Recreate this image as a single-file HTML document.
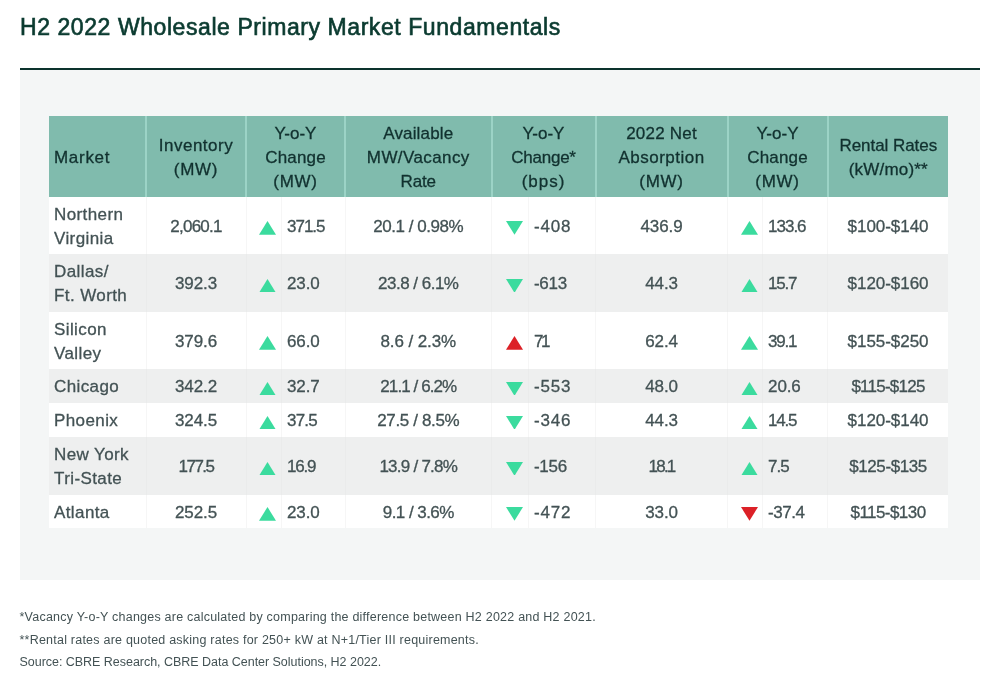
<!DOCTYPE html>
<html lang="en">
<head>
<meta charset="utf-8">
<title>H2 2022 Wholesale Primary Market Fundamentals</title>
<style>
html,body{margin:0;padding:0;background:#fff;}
body{width:1007px;height:683px;position:relative;overflow:hidden;font-family:"Liberation Sans",sans-serif;color:#435254;}
h1{position:absolute;left:20px;top:12px;margin:0;font-size:23px;line-height:30px;font-weight:normal;color:#0b3b30;white-space:nowrap;letter-spacing:0.57px;-webkit-text-stroke:0.65px #0b3b30;}
.panel{position:absolute;left:20px;top:67.7px;width:959.8px;height:512.4px;background:#f4f6f6;border-top:2.5px solid #0c332d;box-sizing:border-box;}
table{position:absolute;left:49px;top:116px;width:899px;border-collapse:collapse;table-layout:fixed;font-size:17px;line-height:24px;}
th,td{padding:2px 0 0 0;margin:0;font-weight:normal;text-align:center;vertical-align:middle;box-sizing:border-box;}
thead th{height:81px;background:#80bbad;color:#11312f;border-left:2px solid #9cd3c6;}
thead th:first-child{border-left:none;text-align:left;padding-left:5px;}
tbody td{background:#fff;border-left:1px solid #f6f6f6;}
tbody td:first-child{border-left:none;text-align:left;padding-left:5px;}
tbody tr.alt td{background:#eeefef;border-left-color:#eaebeb;}
tr.h57 td{height:57px;}tr.h58 td{height:58px;}tr.h34 td{height:34px;}tr.h33 td{height:33px;}
td.n{text-align:left;padding-left:5px;}
table{letter-spacing:0.4px;-webkit-text-stroke:0.3px currentColor;}
td.num{letter-spacing:-0.6px;}
td.a{padding-top:0;}
td.a svg{display:block;margin:5.2px 0 0 12.75px;}
td.a5 svg{margin-left:14.45px;}
td.a7 svg{margin-left:13.35px;}
.notes{position:absolute;left:19.5px;top:606.3px;font-size:12.5px;line-height:22.5px;color:#435254;white-space:nowrap;}
.notes p{margin:0;}
</style>
</head>
<body>
<h1>H2 2022 Wholesale Primary Market Fundamentals</h1>
<div class="panel"></div>
<table>
<colgroup>
<col style="width:97px"><col style="width:100px"><col style="width:35.5px"><col style="width:63.5px"><col style="width:146.5px"><col style="width:37px"><col style="width:67px"><col style="width:132px"><col style="width:35px"><col style="width:65px"><col style="width:120.5px">
</colgroup>
<thead>
<tr>
<th><span style="letter-spacing:0.7px">Market</span></th>
<th><span style="letter-spacing:0.5px">Inventory</span><br><span style="letter-spacing:0.7px">(MW)</span></th>
<th colspan="2"><span style="letter-spacing:0px">Y-o-Y</span><br><span style="letter-spacing:0.15px">Change</span><br><span style="letter-spacing:0.7px">(MW)</span></th>
<th><span style="letter-spacing:0.15px">Available</span><br>MW/Vacancy<br><span style="letter-spacing:-0.15px">Rate</span></th>
<th colspan="2"><span style="letter-spacing:0px">Y-o-Y</span><br><span style="letter-spacing:-0.25px">Change*</span><br><span style="letter-spacing:1px">(bps)</span></th>
<th><span style="letter-spacing:0.2px">2022 Net</span><br><span style="letter-spacing:0.5px">Absorption</span><br><span style="letter-spacing:0.7px">(MW)</span></th>
<th colspan="2"><span style="letter-spacing:0px">Y-o-Y</span><br><span style="letter-spacing:0.15px">Change</span><br><span style="letter-spacing:0.7px">(MW)</span></th>
<th><span style="letter-spacing:-0.05px">Rental Rates</span><br><span style="letter-spacing:0.2px">(kW/mo)**</span></th>
</tr>
</thead>
<tbody>
<tr class="h57">
<td>Northern<br>Virginia</td><td class="num" style="letter-spacing:-0.74px">2,060.1</td>
<td class="a"><svg width="17" height="13.8" viewBox="0 0 17 14" preserveAspectRatio="none"><polygon points="8.5,0 17,14 0,14" fill="#3bdb9e"/></svg></td><td class="n num" style="letter-spacing:-1.00px">371.5</td>
<td class="num" style="letter-spacing:-0.47px">20.1 / 0.98%</td>
<td class="a a5"><svg width="17" height="13.8" viewBox="0 0 17 14" preserveAspectRatio="none"><polygon points="0,0 17,0 8.5,14" fill="#3bdb9e"/></svg></td><td class="n num" style="letter-spacing:0.80px">-408</td>
<td class="num" style="letter-spacing:-0.10px">436.9</td>
<td class="a a7"><svg width="17" height="13.8" viewBox="0 0 17 14" preserveAspectRatio="none"><polygon points="8.5,0 17,14 0,14" fill="#3bdb9e"/></svg></td><td class="n num" style="letter-spacing:-1.00px">133.6</td>
<td class="num" style="letter-spacing:-0.05px">$100-$140</td>
</tr>
<tr class="h58 alt">
<td>Dallas/<br>Ft. Worth</td><td class="num" style="letter-spacing:-0.10px">392.3</td>
<td class="a"><svg width="17" height="13.8" viewBox="0 0 17 14" preserveAspectRatio="none"><polygon points="8.5,0 17,14 0,14" fill="#3bdb9e"/></svg></td><td class="n num" style="letter-spacing:-0.10px">23.0</td>
<td class="num" style="letter-spacing:-0.51px">23.8 / 6.1%</td>
<td class="a a5"><svg width="17" height="13.8" viewBox="0 0 17 14" preserveAspectRatio="none"><polygon points="0,0 17,0 8.5,14" fill="#3bdb9e"/></svg></td><td class="n num" style="letter-spacing:-0.32px">-613</td>
<td class="num" style="letter-spacing:-0.10px">44.3</td>
<td class="a a7"><svg width="17" height="13.8" viewBox="0 0 17 14" preserveAspectRatio="none"><polygon points="8.5,0 17,14 0,14" fill="#3bdb9e"/></svg></td><td class="n num" style="letter-spacing:-1.23px">15.7</td>
<td class="num" style="letter-spacing:-0.05px">$120-$160</td>
</tr>
<tr class="h57">
<td>Silicon<br>Valley</td><td class="num" style="letter-spacing:-0.10px">379.6</td>
<td class="a"><svg width="17" height="13.8" viewBox="0 0 17 14" preserveAspectRatio="none"><polygon points="8.5,0 17,14 0,14" fill="#3bdb9e"/></svg></td><td class="n num" style="letter-spacing:-0.10px">66.0</td>
<td class="num" style="letter-spacing:-0.10px">8.6 / 2.3%</td>
<td class="a a5"><svg width="17" height="13.8" viewBox="0 0 17 14" preserveAspectRatio="none"><polygon points="8.5,0 17,14 0,14" fill="#dc2127"/></svg></td><td class="n num" style="letter-spacing:-2.35px">71</td>
<td class="num" style="letter-spacing:-0.10px">62.4</td>
<td class="a a7"><svg width="17" height="13.8" viewBox="0 0 17 14" preserveAspectRatio="none"><polygon points="8.5,0 17,14 0,14" fill="#3bdb9e"/></svg></td><td class="n num" style="letter-spacing:-1.23px">39.1</td>
<td class="num" style="letter-spacing:-0.05px">$155-$250</td>
</tr>
<tr class="h34 alt">
<td>Chicago</td><td class="num" style="letter-spacing:-0.10px">342.2</td>
<td class="a"><svg width="17" height="13.8" viewBox="0 0 17 14" preserveAspectRatio="none"><polygon points="8.5,0 17,14 0,14" fill="#3bdb9e"/></svg></td><td class="n num" style="letter-spacing:-0.10px">32.7</td>
<td class="num" style="letter-spacing:-0.92px">21.1 / 6.2%</td>
<td class="a a5"><svg width="17" height="13.8" viewBox="0 0 17 14" preserveAspectRatio="none"><polygon points="0,0 17,0 8.5,14" fill="#3bdb9e"/></svg></td><td class="n num" style="letter-spacing:0.80px">-553</td>
<td class="num" style="letter-spacing:-0.10px">48.0</td>
<td class="a a7"><svg width="17" height="13.8" viewBox="0 0 17 14" preserveAspectRatio="none"><polygon points="8.5,0 17,14 0,14" fill="#3bdb9e"/></svg></td><td class="n num" style="letter-spacing:-0.10px">20.6</td>
<td class="num" style="letter-spacing:-0.75px">$115-$125</td>
</tr>
<tr class="h34">
<td>Phoenix</td><td class="num" style="letter-spacing:-0.10px">324.5</td>
<td class="a"><svg width="17" height="13.8" viewBox="0 0 17 14" preserveAspectRatio="none"><polygon points="8.5,0 17,14 0,14" fill="#3bdb9e"/></svg></td><td class="n num" style="letter-spacing:-0.78px">37.5</td>
<td class="num" style="letter-spacing:-0.35px">27.5 / 8.5%</td>
<td class="a a5"><svg width="17" height="13.8" viewBox="0 0 17 14" preserveAspectRatio="none"><polygon points="0,0 17,0 8.5,14" fill="#3bdb9e"/></svg></td><td class="n num" style="letter-spacing:0.80px">-346</td>
<td class="num" style="letter-spacing:-0.10px">44.3</td>
<td class="a a7"><svg width="17" height="13.8" viewBox="0 0 17 14" preserveAspectRatio="none"><polygon points="8.5,0 17,14 0,14" fill="#3bdb9e"/></svg></td><td class="n num" style="letter-spacing:-1.23px">14.5</td>
<td class="num" style="letter-spacing:-0.05px">$120-$140</td>
</tr>
<tr class="h58 alt">
<td>New York<br>Tri-State</td><td class="num" style="letter-spacing:-1.54px">177.5</td>
<td class="a"><svg width="17" height="13.8" viewBox="0 0 17 14" preserveAspectRatio="none"><polygon points="8.5,0 17,14 0,14" fill="#3bdb9e"/></svg></td><td class="n num" style="letter-spacing:-1.23px">16.9</td>
<td class="num" style="letter-spacing:-0.75px">13.9 / 7.8%</td>
<td class="a a5"><svg width="17" height="13.8" viewBox="0 0 17 14" preserveAspectRatio="none"><polygon points="0,0 17,0 8.5,14" fill="#3bdb9e"/></svg></td><td class="n num" style="letter-spacing:-0.32px">-156</td>
<td class="num" style="letter-spacing:-1.80px">18.1</td>
<td class="a a7"><svg width="17" height="13.8" viewBox="0 0 17 14" preserveAspectRatio="none"><polygon points="8.5,0 17,14 0,14" fill="#3bdb9e"/></svg></td><td class="n num" style="letter-spacing:-1.00px">7.5</td>
<td class="num" style="letter-spacing:-0.40px">$125-$135</td>
</tr>
<tr class="h33">
<td>Atlanta</td><td class="num" style="letter-spacing:-0.10px">252.5</td>
<td class="a"><svg width="17" height="13.8" viewBox="0 0 17 14" preserveAspectRatio="none"><polygon points="8.5,0 17,14 0,14" fill="#3bdb9e"/></svg></td><td class="n num" style="letter-spacing:-0.10px">23.0</td>
<td class="num" style="letter-spacing:-0.55px">9.1 / 3.6%</td>
<td class="a a5"><svg width="17" height="13.8" viewBox="0 0 17 14" preserveAspectRatio="none"><polygon points="0,0 17,0 8.5,14" fill="#3bdb9e"/></svg></td><td class="n num" style="letter-spacing:0.80px">-472</td>
<td class="num" style="letter-spacing:-0.10px">33.0</td>
<td class="a a7"><svg width="17" height="13.8" viewBox="0 0 17 14" preserveAspectRatio="none"><polygon points="0,0 17,0 8.5,14" fill="#dc2127"/></svg></td><td class="n num" style="letter-spacing:-0.47px">-37.4</td>
<td class="num" style="letter-spacing:-0.55px">$115-$130</td>
</tr>
</tbody>
</table>
<div class="notes">
<p style="letter-spacing:0.225px">*Vacancy Y-o-Y changes are calculated by comparing the difference between H2 2022 and H2 2021.</p>
<p style="letter-spacing:0.225px">**Rental rates are quoted asking rates for 250+ kW at N+1/Tier III requirements.</p>
<p style="letter-spacing:-0.03px">Source: CBRE Research, CBRE Data Center Solutions, H2 2022.</p>
</div>
</body>
</html>
